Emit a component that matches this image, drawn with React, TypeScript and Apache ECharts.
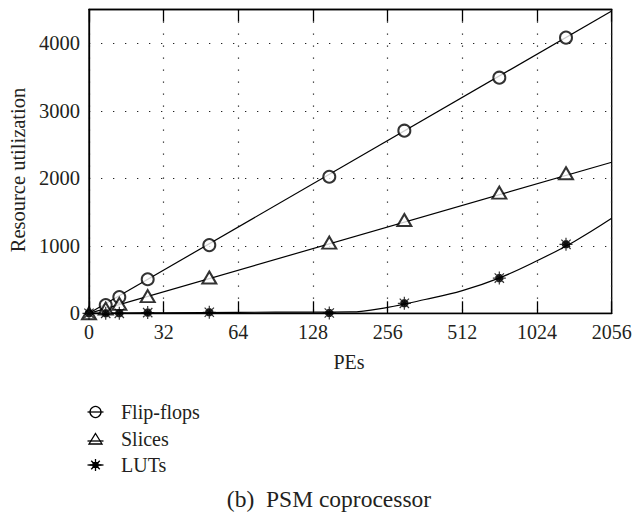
import React, { useEffect, useRef } from 'react';
import * as echarts from 'echarts';

// ---- data ----
const X_LABELS = ['0', '32', '64', '128', '256', '512', '1024', '2056'];
const Y_MAX = 4500;
const Y_STEP = 1000;

// marker positions (x in axis-position units 0..7)
const FF_X = [0, 0.224, 0.406, 0.786, 1.611, 3.218, 4.223, 5.495, 6.388];
const FF_Y = [-40, 123, 240, 505, 1010, 2022, 2705, 3490, 4083];
const SL_X = [0, 0.224, 0.406, 0.786, 1.611, 3.218, 4.223, 5.495, 6.388];
const SL_Y = [0, 70, 140, 255, 530, 1046, 1382, 1787, 2074];
const LU_X = [0, 0.224, 0.406, 0.786, 1.611, 3.218, 4.223, 5.495, 6.388];
const LU_Y = [0, 0, 0, 10, 15, 5, 148, 522, 1022];

// fitted curves
const FF_FIT_X = [0, 7];
const FF_FIT_Y = [0, 4478];
const SL_FIT_X = [0, 7];
const SL_FIT_Y = [0, 2237];
const LU_FIT_X = [0, 1, 2, 3, 3.5, 4, 4.5, 5, 5.5, 6, 6.5, 7];
const LU_FIT_Y = [0, 8, 15, 18, 20, 89, 204, 336, 525, 778, 1065, 1407];

const NAMES = ['Flip-flops', 'Slices', 'LUTs'];
const CAPTION = '(b)  PSM coprocessor';
const X_NAME = 'PEs';
const Y_NAME = 'Resource utilization';

const FONT = 'Liberation Serif';
const TEXT_COLOR = '#231f20';
const STAR_PATH =
  'path://M0,-6L0,6M-6,0L6,0M-4.3,-4.3L4.3,4.3M-4.3,4.3L4.3,-4.3M-3.2,-1.3L-1.3,-3.2L1.3,-3.2L3.2,-1.3L3.2,1.3L1.3,3.2L-1.3,3.2L-3.2,1.3Z';

const zip = (xs: number[], ys: number[]) => xs.map((x, i) => [x, ys[i]]);

function starGraphic(cx: number, cy: number) {
  const r = 6;
  const d = 4.3;
  const ls = { stroke: '#000', lineWidth: 1.3 };
  return {
    type: 'group',
    children: [
      { type: 'line', shape: { x1: cx - r, y1: cy, x2: cx + r, y2: cy }, style: ls },
      { type: 'line', shape: { x1: cx, y1: cy - r, x2: cx, y2: cy + r }, style: ls },
      { type: 'line', shape: { x1: cx - d, y1: cy - d, x2: cx + d, y2: cy + d }, style: ls },
      { type: 'line', shape: { x1: cx - d, y1: cy + d, x2: cx + d, y2: cy - d }, style: ls },
      { type: 'rect', shape: { x: cx - 3, y: cy - 3, width: 6, height: 6 }, style: { fill: '#000' } },
    ],
  };
}

export default function App() {
  const ref = useRef<HTMLDivElement>(null);
  useEffect(() => {
    if (!ref.current) return;
    const chart = echarts.init(ref.current, undefined, { renderer: 'svg' });
    const black = '#000';
    const splitLine = {
      show: true,
      lineStyle: { color: '#222', width: 1.2, type: [1.3, 10.7] as any },
    };
    const legendX1 = 87.5;
    const legendX2 = 103.5;
    const legendMid = 95.5;
    const rows = [412, 439, 465];
    const lineStyle = { stroke: black, lineWidth: 1.3 };

    chart.setOption({
      animation: false,
      backgroundColor: '#fff',
      textStyle: { fontFamily: FONT },
      grid: {
        left: 89,
        right: 23.3,
        top: 9.5,
        bottom: 200.7,
        show: true,
        borderColor: black,
        borderWidth: 1.3,
        backgroundColor: 'transparent',
      },
      xAxis: [
        {
          type: 'value',
          min: 0,
          max: 7,
          interval: 1,
          position: 'bottom',
          axisLine: { show: true, lineStyle: { color: black, width: 1.3 } },
          axisTick: { show: true, inside: true, length: 12, lineStyle: { color: black, width: 1.3 } },
          axisLabel: {
            margin: 9,
            color: TEXT_COLOR,
            fontFamily: FONT,
            fontSize: 20,
            formatter: (v: number) => X_LABELS[Math.round(v)] ?? '',
          },
          splitLine,
        },
        {
          type: 'value',
          min: 0,
          max: 7,
          interval: 1,
          position: 'top',
          axisLine: { show: true, lineStyle: { color: black, width: 1.3 } },
          axisTick: { show: true, inside: true, length: 12, lineStyle: { color: black, width: 1.3 } },
          axisLabel: { show: false },
          splitLine: { show: false },
        },
      ],
      yAxis: {
        type: 'value',
        min: 0,
        max: Y_MAX,
        interval: Y_STEP,
        axisLine: { show: true, lineStyle: { color: black, width: 1.3 } },
        axisTick: { show: false },
        axisLabel: {
          margin: 9,
          color: TEXT_COLOR,
          fontFamily: FONT,
          fontSize: 20.5,
          formatter: (v: number) => (v % Y_STEP === 0 ? String(v) : ''),
        },
        splitLine,
      },
      series: [
        {
          name: NAMES[0] + ' fit',
          type: 'line',
          data: zip(FF_FIT_X, FF_FIT_Y),
          showSymbol: false,
          lineStyle: { color: black, width: 1.2 },
          z: 2,
        },
        {
          name: NAMES[1] + ' fit',
          type: 'line',
          data: zip(SL_FIT_X, SL_FIT_Y),
          showSymbol: false,
          lineStyle: { color: black, width: 1.2 },
          z: 2,
        },
        {
          name: NAMES[2] + ' fit',
          type: 'line',
          data: zip(LU_FIT_X, LU_FIT_Y),
          smooth: 0.4,
          showSymbol: false,
          lineStyle: { color: black, width: 1.2 },
          z: 2,
        },
        {
          name: NAMES[0],
          type: 'scatter',
          data: zip(FF_X, FF_Y),
          symbol: 'emptyCircle',
          symbolSize: 12,
          itemStyle: { color: black, borderWidth: 1.2 },
          z: 3,
        },
        {
          name: NAMES[1],
          type: 'scatter',
          data: zip(SL_X, SL_Y),
          symbol: 'emptyTriangle',
          symbolSize: [14, 12],
          itemStyle: { color: black, borderWidth: 1.2 },
          z: 3,
        },
        {
          name: NAMES[2],
          type: 'scatter',
          data: zip(LU_X, LU_Y),
          symbol: STAR_PATH,
          symbolSize: 13,
          itemStyle: { color: black, borderColor: black, borderWidth: 1.2 },
          z: 3,
        },
      ],
      graphic: [
        {
          type: 'text',
          x: 349,
          y: 362,
          style: { text: X_NAME, fontFamily: FONT, fontSize: 20, fill: TEXT_COLOR, align: 'center', verticalAlign: 'middle' },
        },
        {
          type: 'text',
          x: 18,
          y: 170,
          rotation: Math.PI / 2,
          style: { text: Y_NAME, fontFamily: FONT, fontSize: 20.5, fill: TEXT_COLOR, align: 'center', verticalAlign: 'middle' },
        },
        // legend
        { type: 'line', shape: { x1: legendX1, y1: rows[0], x2: legendX2, y2: rows[0] }, style: lineStyle },
        { type: 'circle', shape: { cx: legendMid, cy: rows[0], r: 5.5 }, style: { fill: 'none', stroke: black, lineWidth: 1.3 } },
        { type: 'line', shape: { x1: legendX1, y1: rows[1] + 2, x2: legendX2, y2: rows[1] + 2 }, style: lineStyle },
        {
          type: 'polygon',
          shape: { points: [[legendMid, rows[1] - 5.5], [legendMid + 6.5, rows[1] + 5], [legendMid - 6.5, rows[1] + 5]] },
          style: { fill: 'none', stroke: black, lineWidth: 1.3 },
        },
        { type: 'line', shape: { x1: legendX1, y1: rows[2], x2: legendX2, y2: rows[2] }, style: lineStyle },
        starGraphic(legendMid, rows[2]),
        ...NAMES.map((n, i) => ({
          type: 'text',
          x: 121,
          y: rows[i],
          style: { text: n, fontFamily: FONT, fontSize: 20, fill: TEXT_COLOR, align: 'left', verticalAlign: 'middle' },
        })),
        {
          type: 'text',
          x: 329,
          y: 499,
          style: { text: CAPTION, fontFamily: FONT, fontSize: 23.5, fill: TEXT_COLOR, align: 'center', verticalAlign: 'middle' },
        },
      ],
    });
    return () => chart.dispose();
  }, []);
  return <div ref={ref} style={{ position: 'absolute', left: 0, top: 0, width: 635, height: 514 }} />;
}
